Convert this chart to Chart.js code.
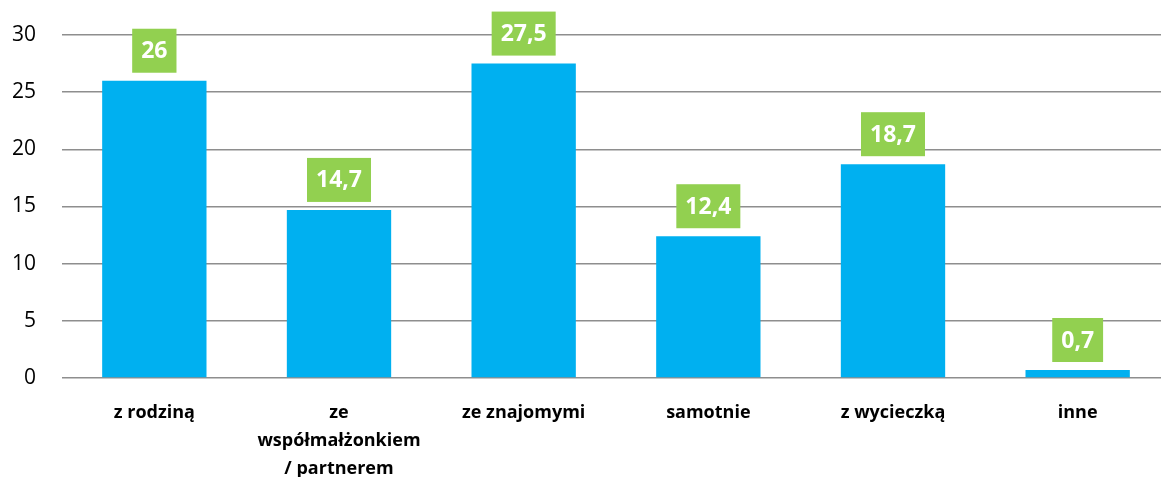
<!DOCTYPE html>
<html>
<head>
<meta charset="utf-8">
<script src="https://cdn.jsdelivr.net/npm/chart.js@4"></script>
<style>
  html, body { margin: 0; padding: 0; background: #fff; overflow: hidden; }
  #wrap { width: 1170px; height: 477px; }
</style>
</head>
<body>
<div id="wrap"><canvas id="chart" width="1170" height="477"></canvas></div>
<script>
const categories = ['z rodziną', ['ze', 'współmałżonkiem', '/ partnerem'], 'ze znajomymi', 'samotnie', 'z wycieczką', 'inne'];
const values = [26, 14.7, 27.5, 12.4, 18.7, 0.7];
const yTicks = [0, 5, 10, 15, 20, 25, 30];

// green boxes with the value above each bar
const valueBoxes = {
  id: 'valueBoxes',
  afterDatasetsDraw(chart) {
    const ctx = chart.ctx;
    const meta = chart.getDatasetMeta(0);
    ctx.save();
    ctx.font = 'bold 23px "Open Sans"';
    ctx.textAlign = 'center';
    ctx.textBaseline = 'middle';
    meta.data.forEach((bar, i) => {
      const txt = String(values[i]).replace('.', ',');
      const w = ctx.measureText(txt).width + 18;
      const h = 44;
      const bottom = bar.y - 8;
      ctx.fillStyle = '#92D050';
      ctx.fillRect(bar.x - w / 2, bottom - h, w, h);
      ctx.fillStyle = '#ffffff';
      ctx.fillText(txt, bar.x, bottom - h / 2 + 1);
    });
    ctx.restore();
  }
};

new Chart(document.getElementById('chart'), {
  type: 'bar',
  data: {
    labels: categories,
    datasets: [{
      data: values,
      backgroundColor: '#00B0F0',
      barPercentage: 0.565,
      categoryPercentage: 1
    }]
  },
  options: {
    responsive: false,
    animation: false,
    layout: { padding: { top: 35, right: 0, left: 0, bottom: 0 } },
    plugins: {
      legend: { display: false },
      tooltip: { enabled: false }
    },
    scales: {
      x: {
        grid: { display: false },
        border: { display: false },
        ticks: {
          color: '#000',
          padding: 13,
          maxRotation: 0,
          autoSkip: false,
          font: { family: 'Open Sans', size: 18, weight: 'bold', lineHeight: 1.55 }
        },
        afterFit(scale) { scale.height = 99; }
      },
      y: {
        min: 0,
        max: 30,
        afterBuildTicks(scale) { scale.ticks = yTicks.map(v => ({ value: v })); },
        grid: { color: '#8e8e8e', lineWidth: 1.5, drawTicks: false },
        border: { display: false },
        ticks: {
          color: '#000',
          padding: 26,
          font: { family: 'Open Sans', size: 21 }
        },
        afterFit(scale) {
          scale.width = 62;
          scale.paddingTop = 0;
          scale.paddingBottom = 0;
        }
      }
    }
  },
  plugins: [valueBoxes]
});
</script>
</body>
</html>
